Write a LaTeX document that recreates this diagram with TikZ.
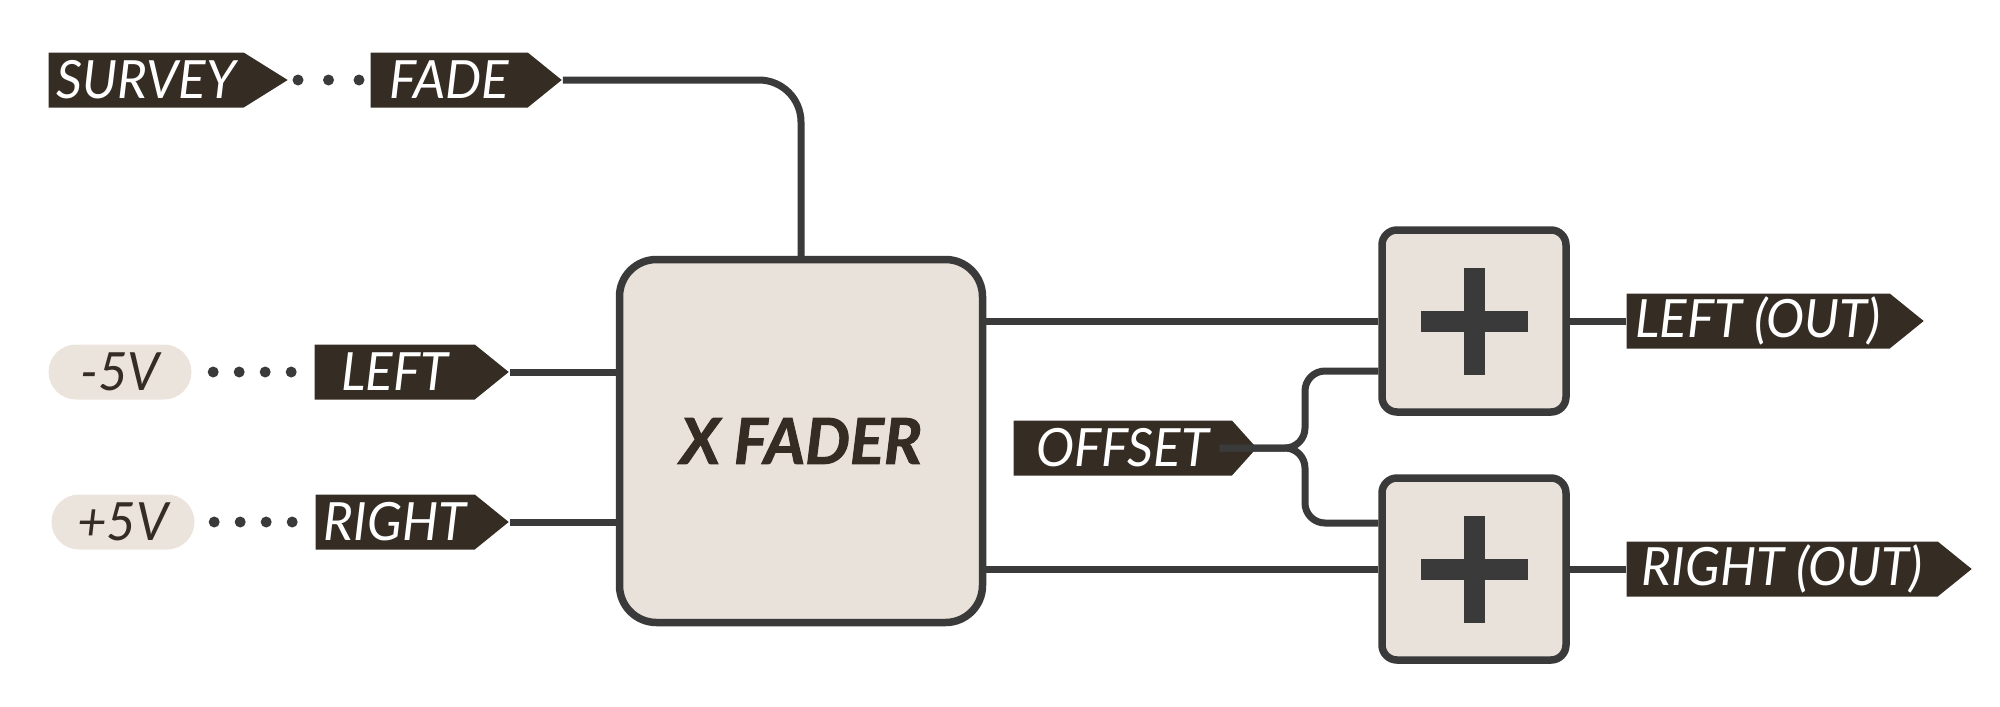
\documentclass[tikz,border=0pt]{standalone}
\usepackage{fontspec}
\setmainfont{Lato}
\newfontfamily\tagfont{Lato}[FakeStretch=0.97]
\newfontfamily\heavyfont{Lato}[FakeBold=1.6]
\usetikzlibrary{shapes.symbols, positioning}

\definecolor{tagdark}{HTML}{352D24}
\definecolor{wiregray}{HTML}{3A3A3A}
\definecolor{boxfill}{HTML}{E9E2DB}
\definecolor{pillfill}{HTML}{EBE4DC}

\begin{document}
\begin{tikzpicture}[
    x=0.1mm, y=-0.1mm,
    tag/.style={signal, signal to=east, signal pointer angle=78, fill=tagdark, text=white,
        minimum height=5.5mm, inner sep=0pt, anchor=west,
        font=\tagfont\itshape\fontsize{15}{18}\selectfont},
    pill/.style={rectangle, rounded corners=2.75mm, fill=pillfill, text=tagdark,
        minimum width=14.3mm, minimum height=5.5mm, inner sep=0pt,
        font=\tagfont\itshape\fontsize{15}{18}\selectfont},
    block/.style={rectangle, draw=wiregray, line width=0.75mm, fill=boxfill},
    fader/.style={block, rounded corners=3.7mm, minimum width=36.3mm, minimum height=36.3mm,
        font=\heavyfont\bfseries\itshape\fontsize{18}{21}\selectfont, text=tagdark},
    sum/.style={block, rounded corners=1.5mm, minimum width=18.4mm, minimum height=18.2mm,
        path picture={
            \fill[wiregray, sharp corners] ([xshift=-1.05mm, yshift=-5.35mm]path picture bounding box.center) rectangle ++(2.1mm,10.7mm);
            \fill[wiregray, sharp corners] ([xshift=-5.35mm, yshift=-1.05mm]path picture bounding box.center) rectangle ++(10.7mm,2.1mm);
        }},
    wire/.style={draw=wiregray, line width=0.7mm},
    dotline/.style={draw=wiregray, line width=1.1mm, line cap=round, dash pattern=on 0pt off #1}
]
\useasboundingbox (0,0) rectangle (2000,706);

% Input tags
\node[tag, signal pointer angle=64, minimum width=23.9mm] (survey) at (48,80) {SURVEY};
\node[tag, minimum width=19.1mm] (fade) at (370,80) {FADE};
\node[pill] (m5) at (120,372) {-5V};
\node[tag, minimum width=19.4mm] (left) at (314,372) {LEFT};
\node[pill] (p5) at (123,522) {+5V};
\node[tag, minimum width=19.3mm] (right) at (315,522) {RIGHT};

% Blocks
\node[fader] (xfader) at (801,441) {X FADER};
\node[sum] (sumL) at (1474,321) {};
\node[sum] (sumR) at (1474,569) {};

% Offset and outputs
\node[tag, signal pointer angle=96, minimum width=24.3mm] (offset) at (1013,448) {OFFSET};
\node[tag, minimum width=29.7mm] (outL) at (1626,321) {LEFT (OUT)};
\node[tag, minimum width=34.5mm] (outR) at (1626,569) {RIGHT (OUT)};

\coordinate (fork) at (1305,448);
\coordinate (inL) at ([yshift=-5mm]sumL.west);
\coordinate (inR) at ([yshift=4.6mm]sumR.west);

% Dotted links
\draw[dotline=3.05mm, shorten <=0.9mm] (survey.east) -- (fade.west);
\draw[dotline=2.6mm, shorten <=2.1mm, shorten >=1.5mm] (m5.east) -- (left.west);
\draw[dotline=2.6mm, shorten <=1.9mm, shorten >=1.5mm] (p5.east) -- (right.west);

% Wires
\draw[wire, rounded corners=4.2mm] (fade.east) -| (xfader.north);
\draw[wire] (left.east) -- (left.east -| xfader.west);
\draw[wire] (right.east) -- (right.east -| xfader.west);
\draw[wire] (xfader.east |- sumL) -- (sumL.west);
\draw[wire] (xfader.east |- sumR) -- (sumR.west);
\draw[wire] (sumL.east) -- (outL.west);
\draw[wire] (sumR.east) -- (outR.west);
\draw[wire, rounded corners=2mm] ([xshift=-3.8mm]offset.east) -| (fork |- inL) -- (inL);
\draw[wire, rounded corners=2mm] ([xshift=-3.8mm]offset.east) -| (fork |- inR) -- (inR);

\end{tikzpicture}
\end{document}
